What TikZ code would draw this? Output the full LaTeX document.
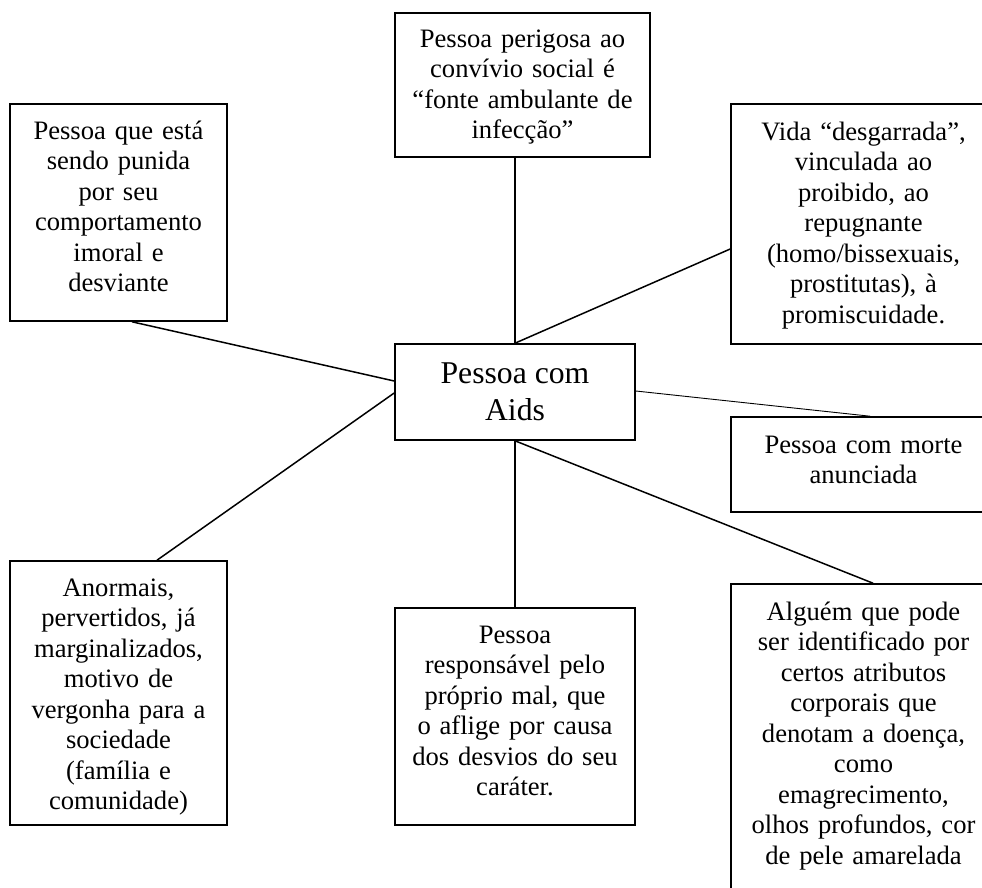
\documentclass[tikz,border=0pt]{standalone}
\usepackage{fontspec}
\setmainfont{Liberation Serif}
\begin{document}
\begin{tikzpicture}[x=1pt,y=-1pt,
  box/.style={draw, line width=1.6pt, rectangle, inner sep=0pt},
  txt/.style={anchor=north, inner sep=0pt, align=center,
    font=\fontsize{26.6}{30.5}\selectfont, execute at begin node=\strut},
  conn/.style={line width=1.5pt},
  thinconn/.style={line width=0.9pt}]
\useasboundingbox (0,0) rectangle (982,888);
\clip (0,0) rectangle (982,888);

% boxes
\node[box, minimum width=217pt, minimum height=217pt] (tl) at (118.5,212.5) {};
\node[box, minimum width=255pt, minimum height=144pt] (t) at (522.5,85) {};
\node[box, minimum width=240pt, minimum height=96pt, align=center,
  font=\fontsize{31.7}{37.5}\selectfont] (c) at (515,392) {Pessoa com\\ Aids};
\node[box, minimum width=265pt, minimum height=240pt] (rt) at (863.5,224) {};
\node[box, minimum width=265pt, minimum height=95pt] (rm) at (863.5,464.5) {};
\node[box, minimum width=217pt, minimum height=264pt] (bl) at (118.5,693) {};
\node[box, minimum width=240pt, minimum height=217pt] (bm) at (515,716.5) {};
\node[box, minimum width=265pt, minimum height=316pt] (br) at (863.5,742) {};

% texts
\node[txt, text width=210pt, yshift=-14.6pt] (tltext) at (tl.north)
  {Pessoa que está\\ sendo punida\\ por seu\\ comportamento\\ imoral e\\ desviante};
\node[txt, text width=250pt, yshift=-13.6pt] (ttext) at (t.north)
  {Pessoa perigosa ao\\ convívio social é\\ “fonte ambulante de\\ infecção”};
\node[txt, text width=255pt, yshift=-15.6pt] (rttext) at (rt.north)
  {Vida “desgarrada”,\\ vinculada ao\\ proibido, ao\\ repugnante\\ (homo/bissexuais,\\ prostitutas), à\\ promiscuidade.};
\node[txt, text width=255pt, yshift=-15.6pt] (rmtext) at (rm.north)
  {Pessoa com morte\\ anunciada};
\node[txt, text width=210pt, yshift=-14.6pt] (bltext) at (bl.north)
  {Anormais,\\ pervertidos, já\\ marginalizados,\\ motivo de\\ vergonha para a\\ sociedade\\ (família e\\ comunidade)};
\node[txt, text width=232pt, yshift=-14.6pt] (bmtext) at (bm.north)
  {Pessoa\\ responsável pelo\\ próprio  mal, que\\ o aflige por causa\\ dos desvios do seu\\ caráter.};
\node[txt, text width=255pt, yshift=-15.6pt] (brtext) at (br.north)
  {Alguém que pode\\ ser identificado por\\ certos atributos\\ corporais que\\ denotam a doença,\\ como\\ emagrecimento,\\ olhos profundos, cor\\ de pele amarelada};

% connectors
\draw[conn] (c.north) -- (t.south -| c.north);
\draw[conn] (c.north) -- ([yshift=-25pt]rt.west);
\draw[conn] ([xshift=13.5pt]tl.south) -- ([yshift=11pt]c.west);
\draw[conn] ([xshift=38.5pt]bl.north) -- ([yshift=-1pt]c.west);
\draw[thinconn] ([yshift=1pt]c.east) -- ([xshift=6.5pt]rm.north);
\draw[conn] (c.south) -- ([xshift=9.5pt]br.north);
\draw[conn] (c.south) -- (bm.north);
\end{tikzpicture}
\end{document}
